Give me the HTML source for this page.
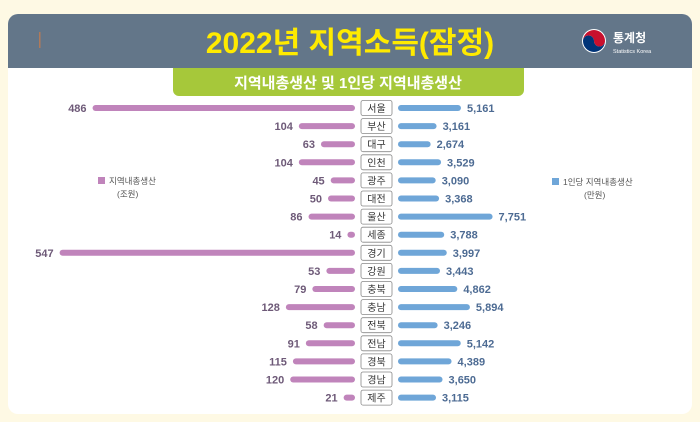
<!DOCTYPE html>
<html><head><meta charset="utf-8"><style>
body{margin:0;width:700px;height:422px;background:#fef9e4;overflow:hidden;font-family:"Liberation Sans","Noto Sans CJK KR",sans-serif;}
svg{display:block}
</style></head><body>
<svg width="700" height="422">
<rect x="8" y="14" width="684" height="400" rx="10" fill="#ffffff"/>
<path d="M8 68 V24 a10 10 0 0 1 10 -10 H682 a10 10 0 0 1 10 10 V68 Z" fill="#637689"/>
<rect x="39" y="32" width="1.5" height="16" fill="#b07a5a"/>
<text x="350" y="53" text-anchor="middle" font-size="30" font-weight="bold" fill="#ffea00" font-family="'Liberation Sans Narrow','Liberation Sans','Noto Sans CJK KR',sans-serif">2022년 지역소득(잠정)</text>
<g>
<circle cx="594" cy="41" r="12" fill="#fff"/>
<path d="M583 41 a11 11 0 0 1 22 0 a5.5 5.5 0 0 1 -11 0 a5.5 5.5 0 0 0 -11 0z" fill="#c8102e"/>
<path d="M583 41 a11 11 0 0 0 22 0 a5.5 5.5 0 0 1 -11 0 a5.5 5.5 0 0 0 -11 0z" fill="#003478"/>
<text x="613" y="42" font-size="12" font-weight="bold" fill="#fff">통계청</text>
<text x="613" y="53" font-size="5.5" fill="#fff">Statistics Korea</text>
</g>
<path d="M173 68 H524 V90 a6 6 0 0 1 -6 6 H179 a6 6 0 0 1 -6 -6 Z" fill="#a6c83a"/>
<text x="348" y="88" text-anchor="middle" font-size="15" font-weight="bold" fill="#fff">지역내총생산 및 1인당 지역내총생산</text>
<rect x="98" y="177" width="7" height="7" fill="#c084bb"/>
<text x="109" y="184" font-size="8.5" fill="#555">지역내총생산</text>
<text x="117" y="197" font-size="8.5" fill="#555">(조원)</text>
<rect x="552" y="178" width="7" height="7" fill="#6fa6d8"/>
<text x="563" y="185" font-size="8.5" fill="#555">1인당 지역내총생산</text>
<text x="584" y="198" font-size="8.5" fill="#555">(만원)</text>
<g id="rows"></g>
</svg>
<script>
const regions=["서울","부산","대구","인천","광주","대전","울산","세종","경기","강원","충북","충남","전북","전남","경북","경남","제주"];
const grdp=[486,104,63,104,45,50,86,14,547,53,79,128,58,91,115,120,21];
const perCapita=[5161,3161,2674,3529,3090,3368,7751,3788,3997,3443,4862,5894,3246,5142,4389,3650,3115];
const NS="http://www.w3.org/2000/svg";
const g=document.getElementById("rows");
const yPos=i=>108+i*18.1;
const leftLen=v=>v*0.54;
const rightLen=v=>v*0.0122;
function mk(tag,attrs){const e=document.createElementNS(NS,tag);for(const k in attrs)e.setAttribute(k,attrs[k]);g.appendChild(e);return e;}
regions.forEach((r,i)=>{
  const y=yPos(i);
  const lw=Math.max(leftLen(grdp[i]),6);
  const lb=mk("rect",{x:355-lw,y:y-3,width:lw,height:6,rx:3,fill:"#c084bb"});
  
  
  const lt=mk("text",{x:355-lw-6,y:y+4,"text-anchor":"end","font-size":11,"font-weight":"bold",fill:"#6e5a78"});
  lt.textContent=grdp[i];
  
  
  const bx=mk("rect",{x:361,y:y-7.5,width:31,height:15,rx:2,fill:"#fff",stroke:"#888","stroke-width":0.8});
  
  
  const rt=mk("text",{x:376.5,y:y+4,"text-anchor":"middle","font-size":10,fill:"#333"});
  rt.textContent=r;
  
  
  const rw=rightLen(perCapita[i]);
  const rb=mk("rect",{x:398,y:y-3,width:rw,height:6,rx:3,fill:"#6fa6d8"});
  
  
  const pt=mk("text",{x:398+rw+6,y:y+4,"font-size":11,"font-weight":"bold",fill:"#4d6b93"});
  pt.textContent=perCapita[i].toLocaleString("en-US");
  
  
});
</script>
</body></html>
